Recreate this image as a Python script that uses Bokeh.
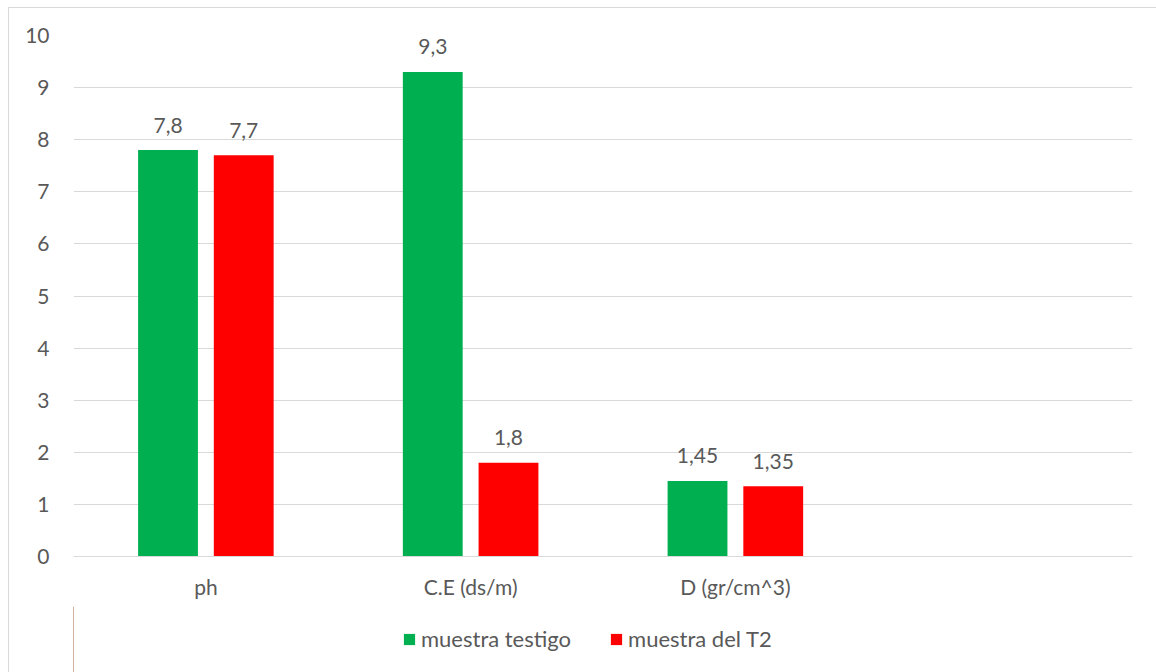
from bokeh.plotting import figure
from bokeh.layouts import column
from bokeh.models import ColumnDataSource, FactorRange, Legend, LegendItem, FixedTicker, Range1d
from bokeh.transform import dodge
from bokeh.core.properties import value
from bokeh.embed import file_html
from bokeh.resources import INLINE

# Soil parameters measured for the control sample and the T2 sample
categories = ["ph", "C.E (ds/m)", "D (gr/cm^3)"]
testigo = [7.8, 9.3, 1.45]
t2 = [7.7, 1.8, 1.35]
series_names = ["muestra testigo", "muestra del T2"]
y_ticks = list(range(0, 11))

GREEN = "#00B050"
RED = "#FF0000"
TEXT = "#595959"
GRID = "#D9D9D9"
FONT = "Lato"
FS = "21px"
BORDER = "1px solid #D9D9D9"

# an extra blank slot on the right keeps the empty fourth category
factors = categories + [" "]


def fmt(v):
    return ("%g" % v).replace(".", ",")


src = ColumnDataSource(dict(
    cat=categories,
    testigo=testigo,
    t2=t2,
    lab_testigo=[fmt(v) for v in testigo],
    lab_t2=[fmt(v) for v in t2],
))

p = figure(
    x_range=FactorRange(*factors),
    y_range=(0, 10),
    width=1148, height=598,
    output_backend="svg", toolbar_location=None,
    min_border_left=64, min_border_top=27,
    min_border_right=25, min_border_bottom=50,
)
p.outline_line_color = None

OFF = 0.143
W = 0.226
r1 = p.vbar(x=dodge("cat", -OFF, range=p.x_range), top="testigo", width=W,
            source=src, fill_color=GREEN, line_color=None)
r2 = p.vbar(x=dodge("cat", OFF, range=p.x_range), top="t2", width=W,
            source=src, fill_color=RED, line_color=None)

for field, lab, off in (("testigo", "lab_testigo", -OFF), ("t2", "lab_t2", OFF)):
    p.text(x=dodge("cat", off, range=p.x_range), y=field, text=lab, source=src,
           text_align="center", text_baseline="alphabetic", y_offset=-25,
           text_font=value(FONT), text_font_size=FS, text_color=TEXT)

# axes
p.yaxis.ticker = FixedTicker(ticks=y_ticks)
p.ygrid.ticker = FixedTicker(ticks=y_ticks)
p.ygrid.grid_line_color = GRID
p.xgrid.grid_line_color = None
p.yaxis.axis_line_color = None
for ax in (p.xaxis[0], p.yaxis[0]):
    ax.major_tick_line_color = None
    ax.minor_tick_line_color = None
    ax.major_tick_in = 0
    ax.major_tick_out = 0
    ax.major_label_text_font = FONT
    ax.major_label_text_font_size = FS
    ax.major_label_text_color = TEXT
p.xaxis.axis_line_color = GRID
p.xaxis.major_label_standoff = 17
p.yaxis.major_label_standoff = 24

# legend strip under the chart; its swatch renderers sit outside the visible range
leg = figure(
    width=1148, height=66,
    x_range=Range1d(0, 1), y_range=Range1d(0, 1),
    output_backend="svg", toolbar_location=None,
    x_axis_type=None, y_axis_type=None,
    min_border=0, min_border_left=64, min_border_right=25,
)
leg.outline_line_color = None
leg.grid.visible = False
g1 = leg.vbar(x=[-5], top=[1], width=0.1, fill_color=GREEN, line_color=None)
g2 = leg.vbar(x=[-5], top=[1], width=0.1, fill_color=RED, line_color=None)

legend = Legend(
    items=[LegendItem(label=series_names[0], renderers=[g1]),
           LegendItem(label=series_names[1], renderers=[g2])],
    orientation="horizontal",
    location=(329, 20),
    glyph_width=14, glyph_height=14, label_height=20,
    label_standoff=5, spacing=38, padding=0, margin=0,
    border_line_color=None, background_fill_alpha=0,
    label_text_font=FONT, label_text_font_size="22px", label_text_color=TEXT,
)
leg.add_layout(legend, "center")

# chart area border on the top and left of the whole block
layout = column(p, leg, spacing=0, margin=(7, 0, 0, 8))
layout.styles = {"border-top": BORDER, "border-left": BORDER}
open("out.html", "w").write(file_html(layout, INLINE))
